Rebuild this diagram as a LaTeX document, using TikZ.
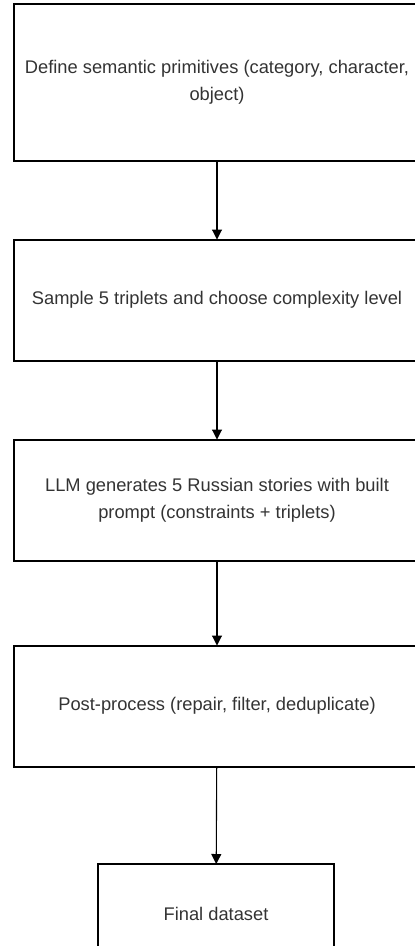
\documentclass[tikz,border=0pt]{standalone}
\usepackage{fontspec}
\setmainfont{Liberation Sans}
\usetikzlibrary{arrows.meta}

\begin{document}
\begin{tikzpicture}[x=1pt, y=-1pt, stepbox/.style={draw, line width=2pt, align=center, inner sep=0pt, outer sep=0pt, minimum width=406pt, minimum height=121pt, text=black!80, font=\fontsize{18.3}{27}\selectfont}, arrow/.style={-{Triangle[length=10pt, width=10pt]}, line width=1.1pt}]
\useasboundingbox (0,0) rectangle (415,946);
\clip (0,0) rectangle (415,946);
\node[stepbox, minimum height=157pt] (define) at (217,82.5) {Define semantic primitives (category, character,\\object)};
\node[stepbox] (sample) at (217,300) {Sample 5 triplets and choose complexity level};
\node[stepbox] (generate) at (217,500) {LLM generates 5 Russian stories with built\\prompt (constraints + triplets)};
\node[stepbox] (postproc) at (217,706) {Post-process (repair, filter, deduplicate)};
\node[stepbox, minimum width=236pt, minimum height=99pt] (dataset) at (216,913.5) {Final dataset};
\draw[arrow] (define) -- (sample);
\draw[arrow] (sample) -- (generate);
\draw[arrow] (generate) -- (postproc);
\draw[arrow] (postproc) -- (dataset);
\end{tikzpicture}
\end{document}
